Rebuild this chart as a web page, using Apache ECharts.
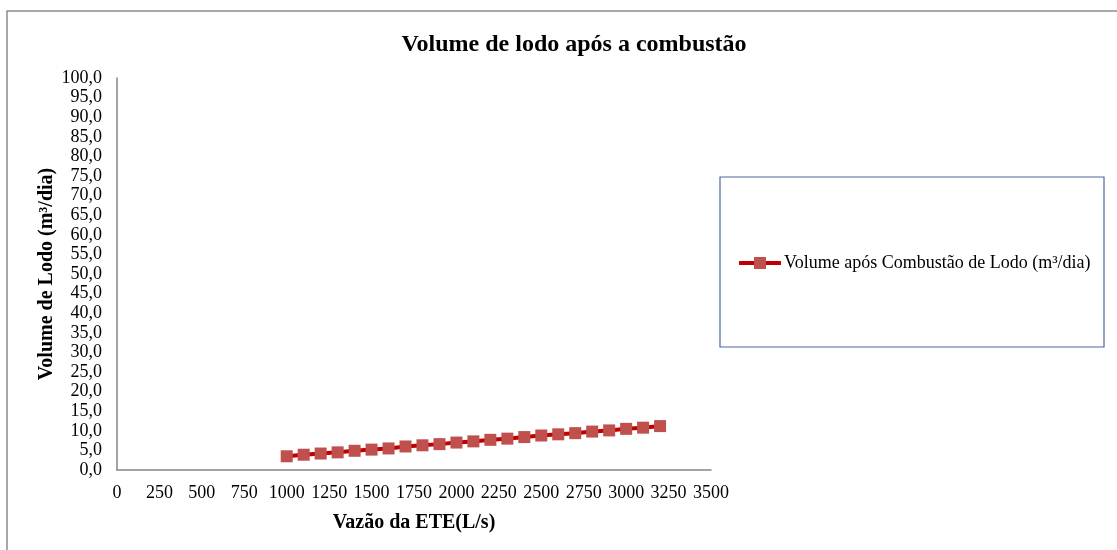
<!DOCTYPE html>
<html>
<head>
<meta charset="utf-8">
<script src="https://cdn.jsdelivr.net/npm/echarts@6/dist/echarts.min.js"></script>
<style>
html,body{margin:0;padding:0;background:#fff;}
#chart{width:1117px;height:550px;}
</style>
</head>
<body>
<div id="chart"></div>
<script>
var titleText = 'Volume de lodo após a combustão';
var seriesName = 'Volume após Combustão de Lodo (m³/dia)';
var xAxisName = 'Vazão da ETE(L/s)';
var yAxisName = 'Volume de Lodo (m³/dia)';
var flowRates = [1000,1100,1200,1300,1400,1500,1600,1700,1800,1900,2000,2100,2200,2300,2400,2500,2600,2700,2800,2900,3000,3100,3200];
var sludgeVolume = [3.5,3.9,4.2,4.5,4.9,5.2,5.5,6.0,6.3,6.6,7.0,7.3,7.7,8.0,8.4,8.8,9.1,9.4,9.8,10.1,10.5,10.8,11.2];

var points = flowRates.map(function(x, i){ return [x, sludgeVolume[i]]; });
var font = '"Liberation Serif", "Times New Roman", serif';

var chart = echarts.init(document.getElementById('chart'), null, {renderer:'canvas'});
chart.setOption({
  animation:false,
  backgroundColor:'#fff',
  title:{
    text:titleText,
    left:569, top:28, textAlign:'center',
    textStyle:{fontFamily:font, fontSize:24, fontWeight:'bold', color:'#000'}
  },
  graphic:[
    {type:'rect', shape:{x:7, y:11, width:1200, height:600}, style:{fill:null, stroke:'#8c8c8c', lineWidth:1.5}, silent:true},
    {type:'rect', shape:{x:720, y:177, width:384, height:170}, style:{fill:null, stroke:'#4a6a9a', lineWidth:1.2}, silent:true}
  ],
  legend:{
    left:732, top:249,
    itemWidth:42, itemHeight:15, itemGap:4,
    lineStyle:{width:4, color:'#C00000'},
    itemStyle:{color:'#C0504D'},
    textStyle:{fontFamily:font, fontSize:18, color:'#000', padding:[0,0,0,-2]},
    data:[seriesName]
  },
  grid:{left:117, right:406, top:78, bottom:80, containLabel:false},
  xAxis:{
    type:'value', min:0, max:3500, interval:250,
    name:xAxisName, nameLocation:'middle', nameGap:43,
    nameTextStyle:{fontFamily:font, fontSize:20, fontWeight:'bold', color:'#000'},
    axisLine:{show:true, lineStyle:{color:'#868686', width:1.5}},
    axisTick:{show:false},
    splitLine:{show:false},
    axisLabel:{fontFamily:font, fontSize:18, color:'#000', margin:14,
      formatter:function(v){ return String(v); }}
  },
  yAxis:{
    type:'value', min:0, max:100, interval:5,
    name:yAxisName, nameLocation:'middle', nameGap:60, nameRotate:90, nameMoveOverlap:false,
    nameTextStyle:{fontFamily:font, fontSize:20, fontWeight:'bold', color:'#000'},
    axisLine:{show:true, lineStyle:{color:'#868686', width:1.5}},
    axisTick:{show:false},
    splitLine:{show:false},
    axisLabel:{fontFamily:font, fontSize:18, color:'#000', margin:15,
      formatter:function(v){ return v.toFixed(1).replace('.', ','); }}
  },
  series:[{
    name:seriesName,
    type:'line',
    data:points,
    symbol:'rect', symbolSize:12,
    lineStyle:{color:'#C00000', width:4},
    itemStyle:{color:'#C0504D', borderWidth:0},
    z:3
  }]
});
</script>
</body>
</html>
